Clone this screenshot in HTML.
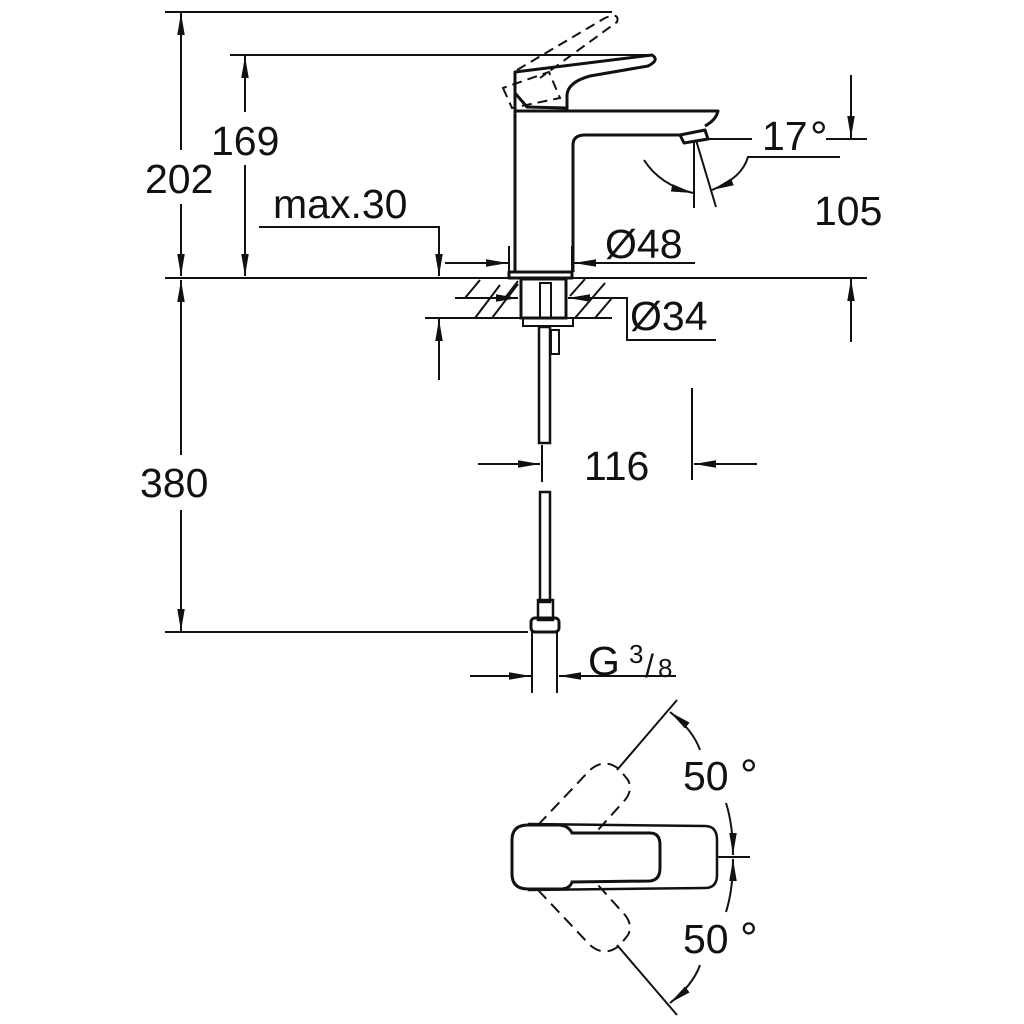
<!DOCTYPE html>
<html><head><meta charset="utf-8"><style>
html,body{margin:0;padding:0;background:#fff;}
svg{display:block;}
text{font-family:"Liberation Sans",sans-serif;fill:#111;}
</style></head><body>
<svg width="1024" height="1024" viewBox="0 0 1024 1024" xmlns="http://www.w3.org/2000/svg">
<defs>
<marker id="a" viewBox="0 0 10 10" refX="10" refY="5" markerWidth="22" markerHeight="22" markerUnits="userSpaceOnUse" orient="auto-start-reverse">
<path d="M0,3.3 L10,5 L0,6.7 z" fill="#111"/>
</marker>
</defs>
<g stroke="#111" stroke-width="2" fill="none">
<line x1="165" y1="12" x2="612" y2="12"/>
<line x1="230" y1="55" x2="648" y2="55"/>
<line x1="165" y1="278" x2="867" y2="278"/>
<line x1="165" y1="632" x2="528" y2="632"/>
<line x1="181" y1="13" x2="181" y2="150" marker-start="url(#a)"/>
<line x1="181" y1="204" x2="181" y2="276" marker-end="url(#a)"/>
<line x1="181" y1="280" x2="181" y2="455" marker-start="url(#a)"/>
<line x1="181" y1="510" x2="181" y2="631" marker-end="url(#a)"/>
<line x1="245" y1="56" x2="245" y2="112" marker-start="url(#a)"/>
<line x1="245" y1="165" x2="245" y2="276" marker-end="url(#a)"/>
<polyline points="259,227 439,227 439,276" marker-end="url(#a)"/>
<line x1="439" y1="380" x2="439" y2="319" marker-end="url(#a)"/>
<line x1="425" y1="318" x2="612" y2="318"/>
<line x1="445" y1="263" x2="508" y2="263" marker-end="url(#a)"/>
<line x1="695" y1="263" x2="574" y2="263" marker-end="url(#a)"/>
<line x1="509" y1="246" x2="509" y2="272"/>
<line x1="572" y1="246" x2="572" y2="272"/>
<line x1="455" y1="298" x2="518" y2="298" marker-end="url(#a)"/>
<line x1="612" y1="298" x2="568" y2="298" marker-end="url(#a)"/>
<polyline points="610,298 627,298 627,340 716,340"/>
<line x1="851" y1="75" x2="851" y2="138" marker-end="url(#a)"/>
<line x1="826" y1="139" x2="867" y2="139"/>
<line x1="851" y1="342" x2="851" y2="279" marker-end="url(#a)"/>
<line x1="700" y1="139" x2="752" y2="139"/>
<line x1="694" y1="140" x2="694" y2="208"/>
<line x1="696" y1="140" x2="716" y2="207"/>
<path d="M644,160 Q660,185 693,193" marker-end="url(#a)"/>
<path d="M840,157 L748,157 Q742,178 712,190" marker-end="url(#a)"/>
<line x1="478" y1="464" x2="540" y2="464" marker-end="url(#a)"/>
<line x1="542" y1="445" x2="542" y2="482"/>
<line x1="692" y1="388" x2="692" y2="480"/>
<line x1="757" y1="464" x2="694" y2="464" marker-end="url(#a)"/>
<line x1="470" y1="676" x2="531" y2="676" marker-end="url(#a)"/>
<line x1="676" y1="676" x2="559" y2="676" marker-end="url(#a)"/>
<line x1="532" y1="632" x2="532" y2="693"/>
<line x1="557" y1="632" x2="557" y2="693"/>
</g>

<g stroke="#111" stroke-width="3" fill="none" stroke-linejoin="round">
<path d="M515,272 L515,111 L718,111 Q716,120 705,126"/>
<path d="M573,272 L573,145 Q573,135 585,135 L680,135"/>
<path d="M680,135 L705,130 L708,139 L684,143 Z" fill="#fff"/>
<rect x="509" y="272" width="63" height="6" fill="#fff"/>
<path d="M515,110 L515,72 L652,55 Q660,60 648,66 L590,76 Q568,82 567,95 L567,110"/>
<path d="M515,93 L527,107 L567,108"/>
</g>
<g stroke="#111" stroke-width="2" fill="none" stroke-dasharray="10,6">
<path d="M503,88 L512,108 L560,98 L549,72 Z"/>
<path d="M517,70 L605,18 Q620,12 617,22 L540,78"/>
</g>

<g stroke="#111" stroke-width="2" fill="none">
<line x1="475" y1="318" x2="500" y2="285"/><line x1="492" y1="318" x2="518" y2="284"/>
<line x1="465" y1="298" x2="480" y2="280"/>
<line x1="505" y1="298" x2="518" y2="281"/>
<line x1="570" y1="296" x2="585" y2="279"/><line x1="575" y1="318" x2="605" y2="283"/>
<line x1="595" y1="318" x2="612" y2="298"/>
<rect x="521" y="279" width="45" height="39" stroke-width="3"/>
<rect x="540" y="283" width="11" height="35" stroke-width="2"/>
<rect x="523" y="318" width="50" height="8" stroke-width="2"/>
<rect x="539" y="327" width="11" height="116" stroke-width="2.5"/>
<rect x="551" y="330" width="8" height="24" stroke-width="2"/>
<rect x="540" y="492" width="10" height="110" stroke-width="2.5"/>
<rect x="538" y="600" width="15" height="20" stroke-width="2.5"/>
<rect x="531" y="618" width="28" height="14" rx="4" stroke-width="3"/>
</g>

<g stroke="#111" fill="none">
<path d="M528,824 L705,826 Q717,826 717,840 L717,875 Q717,888 705,888 L528,890" stroke-width="2.5"/>
<path d="M528,825 Q512,825 512,840 L512,874 Q512,889 528,889 L560,889 Q570,889 572,882 L650,881 Q660,880 660,868 L660,845 Q660,833 650,833 L572,833 Q568,825 558,825 Z" stroke-width="3"/>
<g stroke-width="2" stroke-dasharray="12,7">
<path d="M538,825 L590,770 Q605,757 620,770 L628,780 Q633,790 625,800 L598,830"/>
<path d="M538,890 L590,945 Q605,958 620,945 L628,935 Q633,925 625,915 L598,885"/>
</g>
<g stroke-width="2">
<line x1="617" y1="770" x2="677" y2="700"/>
<line x1="617" y1="945" x2="677" y2="1015"/>
<line x1="718" y1="857" x2="750" y2="857"/>
<path d="M700,750 Q693,730 670,712" marker-end="url(#a)"/>
<path d="M700,965 Q693,985 670,1003" marker-end="url(#a)"/>
<path d="M726,803 Q733,825 733,855" marker-end="url(#a)"/>
<path d="M726,912 Q733,890 733,859" marker-end="url(#a)"/>
</g>
</g>

<g font-size="41">
<text x="145" y="193">202</text>
<text x="211" y="155">169</text>
<text x="273" y="218">max.30</text>
<text x="605" y="258">Ø48</text>
<text x="630" y="330">Ø34</text>
<text x="762" y="150">17</text>
<text x="814" y="225">105</text>
<text x="140" y="497">380</text>
<text x="584" y="480">116</text>
<text x="588" y="675">G</text>
<text x="683" y="790">50</text>
<text x="683" y="953">50</text>
</g>
<g font-size="44">
<text x="810" y="152">°</text>
<text x="740" y="790">°</text>
<text x="740" y="953">°</text>
</g>
<text x="629" y="663" font-size="26">3</text>
<text x="645" y="677" font-size="32">/</text>
<text x="658" y="677" font-size="26">8</text>
</svg>
</body></html>
